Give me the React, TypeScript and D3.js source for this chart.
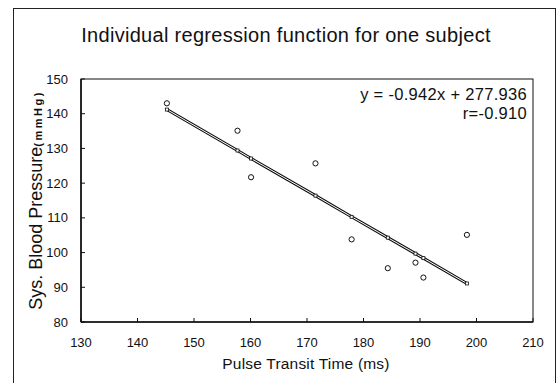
import React from "react";
import * as d3 from "d3";

const ptt = [145.2, 157.7, 160.1, 171.5, 177.9, 184.3, 189.2, 190.6, 198.3];
const sbp = [143.0, 135.1, 121.7, 125.7, 103.8, 95.5, 97.1, 92.8, 105.1];
const predicted = [141.2, 129.4, 127.1, 116.4, 110.3, 104.3, 99.7, 98.4, 91.1];
const xTicks = [130, 140, 150, 160, 170, 180, 190, 200, 210];
const yTicks = [80, 90, 100, 110, 120, 130, 140, 150];
const title = "Individual regression function for one subject";
const equation = "y = -0.942x + 277.936";
const rText = "r=-0.910";

export default function App() {
  const W = 557, H = 383;
  const L = 81, R = 533, T = 79, B = 322;
  const x = d3.scaleLinear().domain([130, 210]).range([L, R]);
  const y = d3.scaleLinear().domain([80, 150]).range([B, T]);
  const pts = ptt.map((v, i) => [v, predicted[i]] as [number, number]);
  const line = d3.line<[number, number]>().x(d => x(d[0])).y(d => y(d[1]));
  const font = "'Liberation Sans', Arial, sans-serif";
  const narrow = "'Liberation Sans Narrow', 'Arial Narrow', 'Liberation Sans', sans-serif";
  return (
    <svg width={W} height={H} style={{ position: "absolute", left: 0, top: 0, background: "#fff" }} fontFamily={font}>
      <rect x={0} y={0} width={W} height={H} fill="#fff" />
      <rect x={13.5} y={8.5} width={542} height={400} fill="none" stroke="#222" strokeWidth={1} />
      <text x={286} y={42} textAnchor="middle" fontSize={20} letterSpacing={0.3} fill="#111">{title}</text>
      <rect x={L} y={T} width={R - L} height={B - T} fill="none" stroke="#111" strokeWidth={1} />
      <line x1={L} x2={R} y1={B} y2={B} stroke="#111" strokeWidth={1.6} />
      <line x1={L} x2={L} y1={T} y2={B} stroke="#111" strokeWidth={1.6} />
      {xTicks.map(t => (
        <g key={"x" + t}>
          <line x1={x(t)} x2={x(t)} y1={B} y2={B - 4} stroke="#111" />
          <text x={x(t)} y={347} textAnchor="middle" fontSize={13} fontFamily={narrow} fill="#111">{t}</text>
        </g>
      ))}
      {yTicks.map(t => (
        <g key={"y" + t}>
          <line x1={L} x2={L + 4} y1={y(t)} y2={y(t)} stroke="#111" />
          <text x={68} y={y(t) + 4.5} textAnchor="end" fontSize={13} fontFamily={narrow} fill="#111">{t}</text>
        </g>
      ))}
      <path d={line(pts) || ""} fill="none" stroke="#111" strokeWidth={3} />
      <path d={line(pts) || ""} fill="none" stroke="#fff" strokeWidth={1} />
      {pts.map((p, i) => (
        <rect key={"p" + i} x={x(p[0]) - 1.5} y={y(p[1]) - 1.5} width={3} height={3} fill="#fff" stroke="#111" strokeWidth={0.8} />
      ))}
      {ptt.map((v, i) => (
        <circle key={"c" + i} cx={x(v)} cy={y(sbp[i])} r={2.6} fill="#fff" stroke="#111" strokeWidth={1} />
      ))}
      <text x={527} y={100} textAnchor="end" fontSize={16.5} letterSpacing={0.3} fill="#111">{equation}</text>
      <text x={527} y={119} textAnchor="end" fontSize={16.5} letterSpacing={0.3} fill="#111">{rText}</text>
      <text x={306} y={369} textAnchor="middle" fontSize={15.5} letterSpacing={0.2} fill="#111">Pulse Transit Time (ms)</text>
      <text transform="translate(42,200) rotate(-90)" textAnchor="middle" fontSize={18} fill="#111">
        Sys. Blood Pressure
        <tspan fontSize={11} fontWeight="bold" letterSpacing={2.5}>(mmHg)</tspan>
      </text>
    </svg>
  );
}
